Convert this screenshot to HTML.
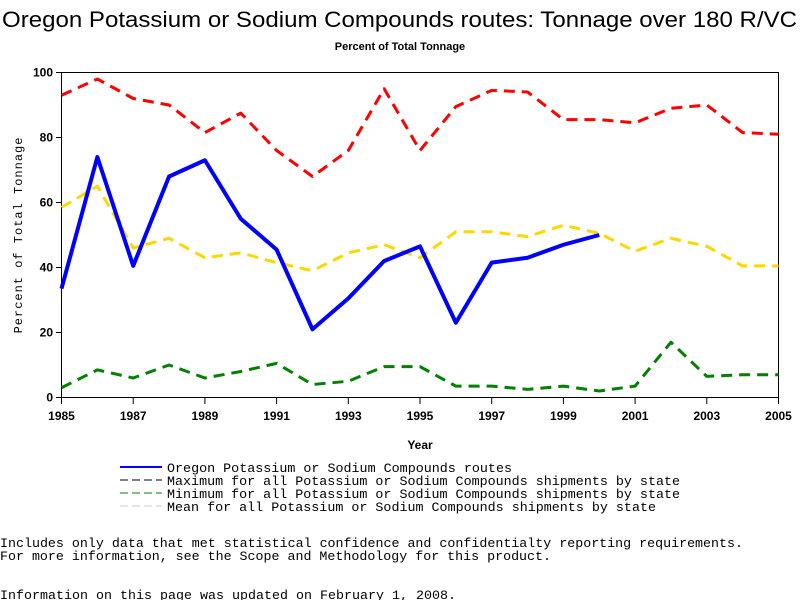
<!DOCTYPE html>
<html><head><meta charset="utf-8"><style>
body{margin:0;background:#fff;width:800px;height:600px;overflow:hidden;font-family:"Liberation Sans",sans-serif}
svg{position:absolute;left:0;top:0}
.mono{font-family:"Liberation Mono",monospace}
</style></head><body>
<svg id="chart" width="800" height="600">
<text x="2" y="27" font-size="22" textLength="795" lengthAdjust="spacingAndGlyphs">Oregon Potassium or Sodium Compounds routes: Tonnage over 180 R/VC</text>
<text x="400" y="50" text-anchor="middle" font-size="11" font-weight="bold">Percent of Total Tonnage</text>
<rect x="61.5" y="72.5" width="717" height="325" fill="none" stroke="#000"/>
<g id="axes"></g><g id="series"></g>
<text x="0" y="0" transform="translate(22,235) rotate(-90)" text-anchor="middle" font-size="12" class="mono" letter-spacing="1">Percent of Total Tonnage</text>
<text x="420" y="449" text-anchor="middle" font-size="12" font-weight="bold">Year</text>
<g class="mono" font-size="13">
<g><line x1="120" x2="162" y1="467" y2="467" stroke="#0000ff" stroke-width="2"/><text x="167" y="472" textLength="345" lengthAdjust="spacingAndGlyphs">Oregon Potassium or Sodium Compounds routes</text></g>
<g><line x1="120" x2="162" y1="480" y2="480" stroke="#000" stroke-dasharray="8,4"/><text x="167" y="485" textLength="513" lengthAdjust="spacingAndGlyphs">Maximum for all Potassium or Sodium Compounds shipments by state</text></g>
<g><line x1="120" x2="162" y1="493" y2="493" stroke="#008000" stroke-dasharray="8,4"/><text x="167" y="498" textLength="513" lengthAdjust="spacingAndGlyphs">Minimum for all Potassium or Sodium Compounds shipments by state</text></g>
<g><line x1="120" x2="162" y1="506" y2="506" stroke="#ccc" stroke-dasharray="8,4"/><text x="167" y="511" textLength="489" lengthAdjust="spacingAndGlyphs">Mean for all Potassium or Sodium Compounds shipments by state</text></g>
</g>
<g class="mono" font-size="13">
<text x="0" y="547" textLength="743" lengthAdjust="spacingAndGlyphs">Includes only data that met statistical confidence and confidentialty reporting requirements.</text>
<text x="0" y="560" textLength="551" lengthAdjust="spacingAndGlyphs">For more information, see the Scope and Methodology for this product.</text>
<text x="0" y="599" textLength="456" lengthAdjust="spacingAndGlyphs">Information on this page was updated on February 1, 2008.</text>
</g>
</svg>
<script>
const years=[1985,1986,1987,1988,1989,1990,1991,1992,1993,1994,1995,1996,1997,1998,1999,2000,2001,2002,2003,2004,2005];
const maxVals=[93,98,92,90,81.5,87.5,76,68,76,95,76,89.5,94.5,94,85.5,85.5,84.5,89,90,81.5,81];
const meanVals=[58.5,65,46,49,43,44.5,41.5,39,44.5,47,43,51,51,49.5,53,50.5,45,49,46.5,40.5,40.5];
const minVals=[3,8.5,6,10,6,8,10.5,4,5,9.5,9.5,3.5,3.5,2.5,3.5,2,3.5,17,6.5,7,7];
const oregonVals=[33.5,74,40.5,68,73,55,45.5,21,30.5,42,46.5,23,41.5,43,47,50];
const yTicks=[0,20,40,60,80,100];
const xTicks=[1985,1987,1989,1991,1993,1995,1997,1999,2001,2003,2005];
const NS='http://www.w3.org/2000/svg';
const X=v=>61.5+(v-1985)*(717/20), Y=v=>397.5-v*3.25;
const axes=document.getElementById('axes'), ser=document.getElementById('series');
function mk(t,a,p){const e=document.createElementNS(NS,t);for(const k in a)e.setAttribute(k,a[k]);p.appendChild(e);return e;}
yTicks.forEach(t=>{
 const l=mk('line',{x1:56,x2:61.5,y1:Y(t),y2:Y(t),stroke:'#000'},axes);
 
 
 const s=mk('text',{x:53,y:Y(t)+4,'text-anchor':'end','font-size':12,'font-weight':'bold'},axes);s.textContent=t;
 
 
});
xTicks.forEach(t=>{
 const l=mk('line',{x1:X(t),x2:X(t),y1:397.5,y2:404,stroke:'#000'},axes);
 
 
 const s=mk('text',{x:X(t),y:420,'text-anchor':'middle','font-size':12,'font-weight':'bold'},axes);s.textContent=t;
 
 
});
function line(vals,color,w,dash,name){
 const pts=vals.map((v,i)=>X(years[i])+','+Y(v)).join(' ');
 const p=mk('polyline',{points:pts,fill:'none',stroke:color,'stroke-width':w,'stroke-linejoin':'round'},ser);
 if(dash)p.setAttribute('stroke-dasharray',dash);
 
 
}
line(maxVals,'#ff0000',3,'11,7','series-maximum');
line(meanVals,'#ffd700',3,'11,7','series-mean');
line(minVals,'#008000',3,'11,7','series-minimum');
line(oregonVals,'#0000ff',4,null,'series-oregon');
</script>
</body></html>
